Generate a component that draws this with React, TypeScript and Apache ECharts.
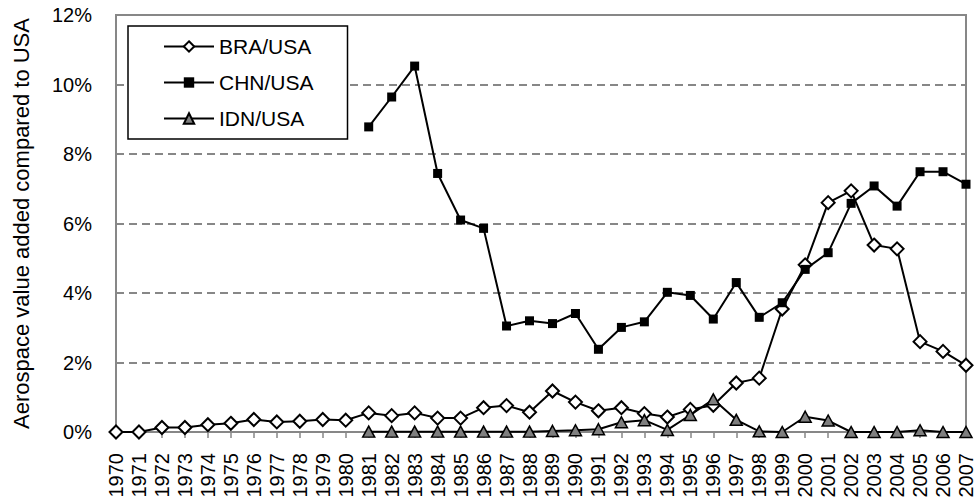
import React, { useEffect, useRef } from "react";
import * as echarts from "echarts";

const years = [
  "1970","1971","1972","1973","1974","1975","1976","1977","1978","1979",
  "1980","1981","1982","1983","1984","1985","1986","1987","1988","1989",
  "1990","1991","1992","1993","1994","1995","1996","1997","1998","1999",
  "2000","2001","2002","2003","2004","2005","2006","2007",
];

const braUsa = [
  0.0, 0.0, 0.13, 0.13, 0.21, 0.25, 0.36, 0.29, 0.31, 0.36,
  0.34, 0.55, 0.47, 0.55, 0.40, 0.40, 0.70, 0.76, 0.57, 1.18,
  0.86, 0.61, 0.70, 0.53, 0.43, 0.65, 0.77, 1.41, 1.55, 3.54,
  4.81, 6.60, 6.94, 5.38, 5.27, 2.60, 2.32, 1.92,
];

const chnUsa = [
  null, null, null, null, null, null, null, null, null, null,
  null, 8.78, 9.64, 10.53, 7.44, 6.10, 5.86, 3.05, 3.20, 3.12,
  3.41, 2.38, 3.01, 3.17, 4.02, 3.93, 3.25, 4.30, 3.30, 3.72,
  4.68, 5.16, 6.58, 7.08, 6.50, 7.49, 7.49, 7.13,
];

const idnUsa = [
  null, null, null, null, null, null, null, null, null, null,
  null, 0.01, 0.01, 0.01, 0.01, 0.01, 0.01, 0.01, 0.01, 0.03,
  0.05, 0.08, 0.28, 0.34, 0.06, 0.49, 0.94, 0.35, 0.02, 0.0,
  0.44, 0.33, 0.0, 0.0, 0.0, 0.05, 0.0, 0.0,
];

const seriesNames = ["BRA/USA", "CHN/USA", "IDN/USA"];
const yTitle = "Aerospace value added compared to USA";

const FONT = "'Liberation Sans', Arial, sans-serif";
const GRAY = "#878787";

export default function App() {
  const ref = useRef<HTMLDivElement>(null);
  useEffect(() => {
    if (!ref.current) return;
    const chart = echarts.init(ref.current, null, { renderer: "svg" });
    chart.setOption({
      animation: false,
      backgroundColor: "#ffffff",
      textStyle: { fontFamily: FONT },
      grid: {
        left: 116,
        right: 9,
        top: 15,
        bottom: 72,
        show: true,
        borderColor: GRAY,
        borderWidth: 2,
      },
      legend: {
        left: 128,
        top: 26,
        orient: "vertical",
        data: seriesNames,
        itemWidth: 50,
        itemHeight: 13,
        itemGap: 15,
        padding: [10, 34, 10, 35],
        borderColor: "#000",
        borderWidth: 1.5,
        backgroundColor: "#fff",
        textStyle: { fontSize: 21, color: "#000", fontFamily: FONT },
      },
      xAxis: {
        type: "category",
        data: years,
        boundaryGap: false,
        axisLine: { lineStyle: { color: GRAY, width: 2 } },
        axisTick: { show: true, length: 6, lineStyle: { color: GRAY, width: 1.5 }, interval: 0 },
        axisLabel: {
          rotate: 90,
          interval: 0,
          fontSize: 20,
          color: "#000",
          margin: 21,
          fontFamily: FONT,
        },
        splitLine: { show: false },
      },
      yAxis: {
        type: "value",
        min: 0,
        max: 12,
        interval: 2,
        name: yTitle,
        nameLocation: "middle",
        nameGap: 84,
        nameTextStyle: { fontSize: 22, color: "#000", fontFamily: FONT },
        axisLine: { show: true, lineStyle: { color: GRAY, width: 2 } },
        axisTick: { show: true, length: 5, inside: true, lineStyle: { color: GRAY, width: 1.5 } },
        axisLabel: {
          formatter: "{value}%",
          fontSize: 20,
          color: "#000",
          margin: 24,
          fontFamily: FONT,
        },
        splitLine: { show: true, lineStyle: { color: GRAY, width: 2, type: [8, 5] } },
      },
      series: [
        {
          name: seriesNames[0],
          type: "line",
          data: braUsa,
          symbol: "diamond",
          symbolSize: [13, 13],
          showAllSymbol: true,
          lineStyle: { color: "#000", width: 2 },
          itemStyle: { color: "#fff", borderColor: "#000", borderWidth: 2 },
          z: 3,
        },
        {
          name: seriesNames[1],
          type: "line",
          data: chnUsa,
          symbol: "rect",
          symbolSize: 9,
          showAllSymbol: true,
          lineStyle: { color: "#000", width: 2 },
          itemStyle: { color: "#000", borderColor: "#000", borderWidth: 0 },
          z: 4,
        },
        {
          name: seriesNames[2],
          type: "line",
          data: idnUsa,
          symbol: "triangle",
          symbolSize: [12, 11],
          showAllSymbol: true,
          lineStyle: { color: "#000", width: 2 },
          itemStyle: { color: "#7f7f7f", borderColor: "#000", borderWidth: 1.5 },
          z: 5,
        },
      ],
    });
    return () => chart.dispose();
  }, []);
  return (
    <div
      ref={ref}
      style={{ position: "absolute", left: 0, top: 0, width: 976, height: 504 }}
    />
  );
}
